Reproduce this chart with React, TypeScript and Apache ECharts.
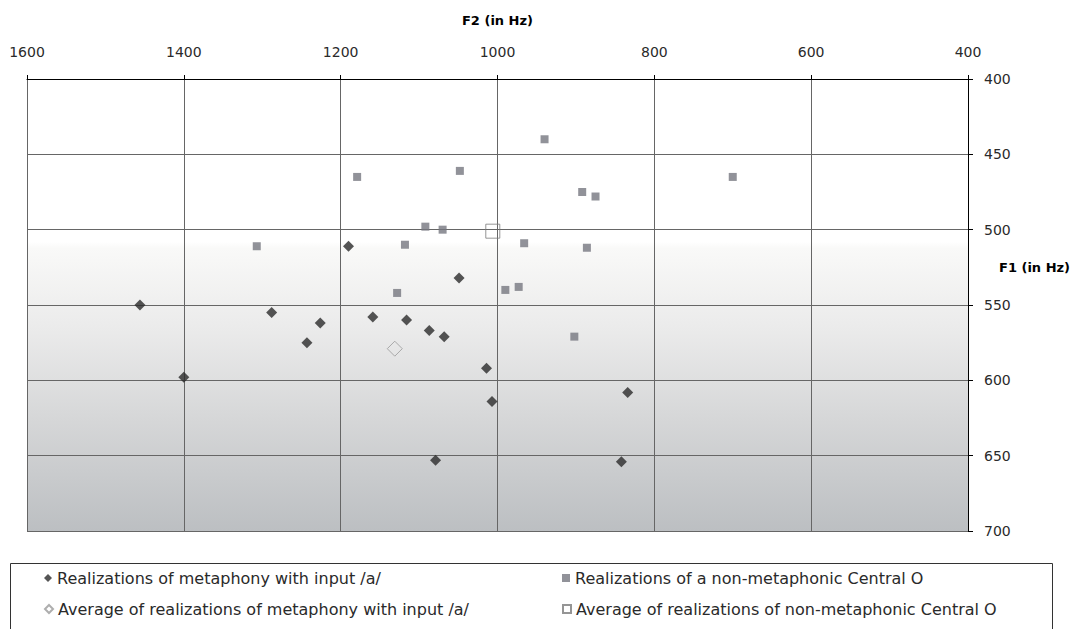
import React, { useEffect, useRef } from "react";
import * as echarts from "echarts";

// F2 (Hz), F1 (Hz)
const metaphonyPoints: [number, number][] = [
  [1456, 550], [1400, 598], [1288, 555], [1226, 562], [1243, 575], [1190, 511],
  [1159, 558], [1116, 560], [1087, 567], [1068, 571], [1049, 532], [1014, 592],
  [1007, 614], [834, 608], [1079, 653], [842, 654],
];
const centralOPoints: [number, number][] = [
  [1307, 511], [1179, 465], [1128, 542], [1118, 510], [1092, 498], [1070, 500],
  [1048, 461], [940, 440], [892, 475], [875, 478], [966, 509], [886, 512],
  [990, 540], [973, 538], [902, 571], [700, 465],
];
const metaphonyAverage: [number, number][] = [[1131, 579]];
const centralOAverage: [number, number][] = [[1006, 501]];

const seriesNames = [
  "Realizations of metaphony with input /a/",
  "Realizations of a non-metaphonic Central O",
  "Average of realizations of metaphony with input /a/",
  "Average of realizations of non-metaphonic Central O",
];

const FONT = "'DejaVu Sans', 'Liberation Sans', Arial, sans-serif";

export default function App() {
  const ref = useRef<HTMLDivElement>(null);
  useEffect(() => {
    if (!ref.current) return;
    const chart = echarts.init(ref.current, undefined, { renderer: "svg" });
    const legendText = { fontFamily: FONT, fontSize: 16, color: "#2a2a2a" };
    const legendBase = {
      orient: "horizontal" as const,
      itemWidth: 8,
      itemHeight: 8,
      itemGap: 4,
      padding: 0,
      textStyle: legendText,
      selectedMode: false,
    };
    chart.setOption({
      animation: false,
      textStyle: { fontFamily: FONT },
      grid: {
        left: 27,
        right: 105,
        top: 79,
        bottom: 98,
        show: true,
        borderWidth: 0,
        backgroundColor: new echarts.graphic.LinearGradient(0, 0, 0, 1, [
          { offset: 0, color: "#ffffff" },
          { offset: 0.36, color: "#ffffff" },
          { offset: 0.375, color: "#f9f9f8" },
          { offset: 0.55, color: "#ebebeb" },
          { offset: 0.75, color: "#d6d7d8" },
          { offset: 1, color: "#bcbfc2" },
        ]),
      },
      xAxis: {
        type: "value",
        position: "top",
        inverse: true,
        min: 400,
        max: 1600,
        interval: 200,
        name: "F2 (in Hz)",
        nameLocation: "middle",
        nameGap: 52,
        nameTextStyle: { fontFamily: FONT, fontSize: 13, fontWeight: "bold", color: "#000" },
        axisLine: { show: true, lineStyle: { color: "#000", width: 1 } },
        axisTick: { show: true, length: 4, lineStyle: { color: "#000" } },
        axisLabel: {
          margin: 20,
          fontFamily: FONT,
          fontSize: 14,
          color: "#2a2a2a",
          formatter: (v: number) => String(v),
        },
        splitLine: { show: true, lineStyle: { color: "#666666", width: 1 } },
      },
      yAxis: {
        type: "value",
        position: "right",
        inverse: true,
        min: 400,
        max: 700,
        interval: 50,
        axisLine: { show: true, lineStyle: { color: "#000", width: 1 } },
        axisTick: { show: true, length: 5, lineStyle: { color: "#000" } },
        axisLabel: {
          margin: 16,
          fontFamily: FONT,
          fontSize: 14,
          color: "#2a2a2a",
          formatter: (v: number) => String(v),
        },
        splitLine: { show: true, lineStyle: { color: "#666666", width: 1 } },
      },
      legend: [
        { ...legendBase, left: 44, top: 570, data: [seriesNames[0]] },
        { ...legendBase, left: 562, top: 570, data: [seriesNames[1]] },
        { ...legendBase, left: 44, top: 601, data: [seriesNames[2]] },
        { ...legendBase, left: 562, top: 601, data: [seriesNames[3]] },
      ],
      graphic: [
        {
          type: "rect",
          left: 8,
          top: 561,
          shape: { width: 1042, height: 90 },
          style: { fill: "none", stroke: "#333", lineWidth: 1 },
          silent: true,
        },
        {
          type: "text",
          left: 999,
          top: 261,
          style: { text: "F1 (in Hz)", fontFamily: FONT, fontSize: 13, fontWeight: "bold", fill: "#000" },
          silent: true,
        },
      ],
      series: [
        {
          name: seriesNames[0],
          type: "scatter",
          symbol: "diamond",
          symbolSize: [11, 11],
          itemStyle: { color: "#2a2a2a" },
          data: metaphonyPoints,
        },
        {
          name: seriesNames[1],
          type: "scatter",
          symbol: "rect",
          symbolSize: [8, 8],
          itemStyle: { color: "#76777f" },
          data: centralOPoints,
        },
        {
          name: seriesNames[2],
          type: "scatter",
          symbol: "diamond",
          symbolSize: [15, 15],
          itemStyle: { color: "rgba(255,255,255,0)", borderColor: "#9a9a9a", borderWidth: 1 },
          data: metaphonyAverage,
        },
        {
          name: seriesNames[3],
          type: "scatter",
          symbol: "rect",
          symbolSize: [14, 14],
          itemStyle: { color: "rgba(255,255,255,0)", borderColor: "#7a7a7a", borderWidth: 1 },
          data: centralOAverage,
        },
      ],
    });
    return () => chart.dispose();
  }, []);
  return (
    <div
      ref={ref}
      style={{ position: "absolute", left: 0, top: 0, width: 1073, height: 629 }}
    />
  );
}
